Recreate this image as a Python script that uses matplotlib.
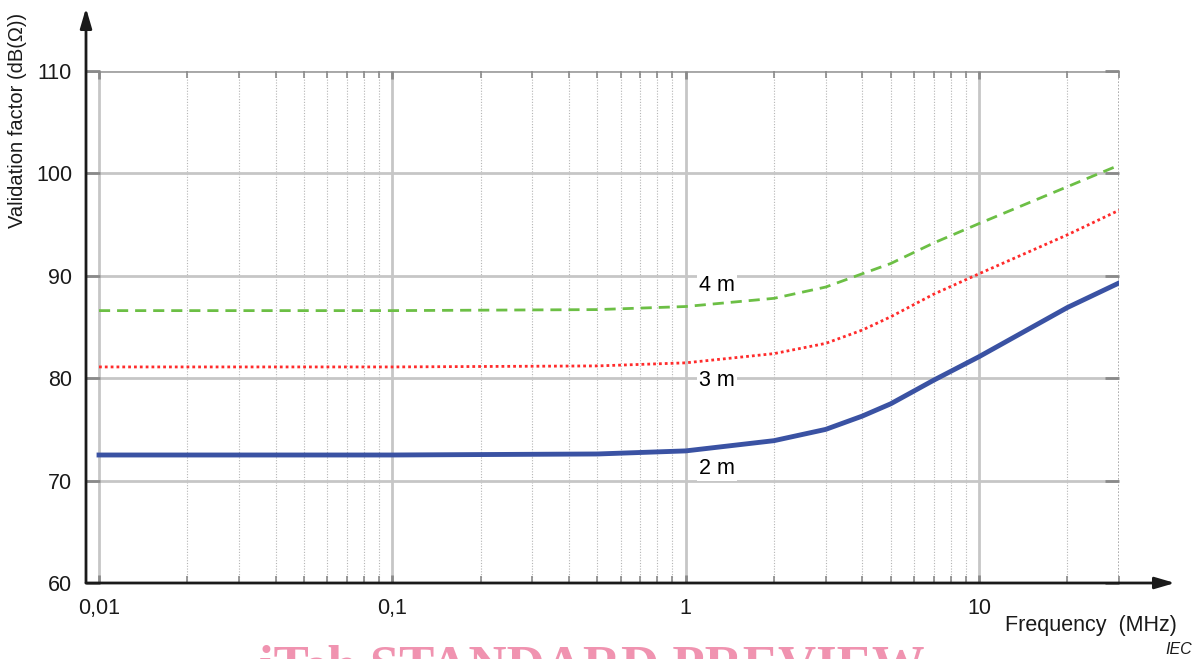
import matplotlib; matplotlib.use('Agg')
from matplotlib import pyplot as plt
from matplotlib.ticker import FixedLocator, NullFormatter
import numpy as np

# frequency points (MHz) and validation factor curves (dB(Ohm))
freq = [0.01, 0.1, 0.5, 1, 2, 3, 4, 5, 7, 10, 20, 30]
vf_2m = [72.5, 72.5, 72.6, 72.9, 73.9, 75.0, 76.3, 77.5, 79.8, 82.1, 86.9, 89.3]
vf_3m = [81.1, 81.1, 81.2, 81.5, 82.4, 83.4, 84.7, 86.0, 88.2, 90.2, 94.0, 96.4]
vf_4m = [86.6, 86.6, 86.7, 87.0, 87.8, 88.9, 90.2, 91.2, 93.2, 95.1, 98.7, 100.8]

major_x = [0.01, 0.1, 1, 10]
major_x_labels = ['0,01', '0,1', '1', '10']
y_ticks = [60, 70, 80, 90, 100, 110]

W, H = 1199, 659
fig = plt.figure(figsize=(W/100., H/100.), dpi=100)
plt.rcParams['font.family'] = ['Liberation Sans', 'DejaVu Sans']

# axes box in pixel units
x0, x1, ytop, ybot = 86, 1119, 71, 583
ax = fig.add_axes([x0/float(W), 1-ybot/float(H), (x1-x0)/float(W), (ybot-ytop)/float(H)])
ax.set_xscale('log')
xmin = 10**(-2 - 13/293.)
ax.set_xlim(xmin, 30)
ax.set_ylim(60, 110)
for s in ax.spines.values():
	s.set_visible(False)

# grid
minor_x = []
for dec in [0.01, 0.1, 1]:
	minor_x.extend([dec*m for m in range(2, 10)])
minor_x.extend([20])
for xv in minor_x:
	ax.axvline(xv, color='#b5b5b5', lw=0.8, ls=(0, (1, 1.5)), zorder=1)
for xv in major_x:
	ax.axvline(xv, color='#c6c6c6', lw=2, zorder=1)
ax.axvline(30, color='#a0a0a0', lw=1.2, ls=(0, (1, 1)), zorder=1)
for yv in y_ticks[1:]:
	ax.axhline(yv, color='#c6c6c6', lw=2, zorder=1)
ax.axhline(110, color='#a8a8a8', lw=2, zorder=1)

ax.xaxis.set_major_locator(FixedLocator(major_x))
ax.xaxis.set_minor_locator(FixedLocator(minor_x + [30]))
ax.xaxis.set_minor_formatter(NullFormatter())
ax.set_xticklabels(major_x_labels)
ax.set_yticks(y_ticks)
ax.tick_params(axis='both', which='both', direction='in', top=True, right=True,
	color='#8a8a8a', labelsize=15.5, labelcolor='#1a1a1a')
ax.tick_params(axis='x', which='major', length=6, width=2, pad=11)
ax.tick_params(axis='x', which='minor', length=5, width=1.2)
ax.tick_params(axis='y', which='major', length=10, width=2, pad=10)

# curves
ax.plot(freq, vf_4m, color='#6cbf45', lw=2, ls=(0, (4, 2.5)), zorder=3)
ax.plot(freq, vf_3m, color='#ff2b2b', lw=2, ls=(0, (1, 1.1)), zorder=3)
ax.plot(freq, vf_2m, color='#3a52a3', lw=3.5, zorder=3)

box = dict(facecolor='white', edgecolor='none', pad=1.5)
ax.text(1.28, 89.1, '4 m', fontsize=15.5, ha='center', va='center', bbox=box, zorder=4)
ax.text(1.28, 79.8, '3 m', fontsize=15.5, ha='center', va='center', bbox=box, zorder=4)
ax.text(1.28, 71.2, '2 m', fontsize=15.5, ha='center', va='center', bbox=box, zorder=4)

# axis arrows
arrow = dict(arrowstyle='-|>,head_length=1.2,head_width=0.35', color='#1a1a1a', lw=2, shrinkA=0, shrinkB=0)
ax.annotate('', xy=(0, (ybot-8)/float(ybot-ytop)), xytext=(0, 0),
	xycoords='axes fraction', textcoords='axes fraction', arrowprops=arrow, annotation_clip=False)
ax.annotate('', xy=((1175-x0)/float(x1-x0), 0), xytext=(0, 0),
	xycoords='axes fraction', textcoords='axes fraction', arrowprops=arrow, annotation_clip=False)

fig.text(18/float(W), 1-120/float(H), 'Validation factor (dB(\u03a9))', rotation=90,
	fontsize=14.5, ha='center', va='center', color='#1a1a1a')
fig.text(1177/float(W), 1-625/float(H), 'Frequency  (MHz)', fontsize=15.5,
	ha='right', va='center', color='#1a1a1a')
fig.text(1192/float(W), 1-650/float(H), 'IEC', fontsize=11.5, style='italic',
	ha='right', va='center', color='#1a1a1a')

# watermark, cut by the bottom edge
fig.text(592/float(W), 1-644/float(H), 'iTeh STANDARD PREVIEW', fontsize=38,
	family='Liberation Serif', weight='bold', color='#f093b0', ha='center', va='top')

plt.savefig('out.png', dpi=100)
